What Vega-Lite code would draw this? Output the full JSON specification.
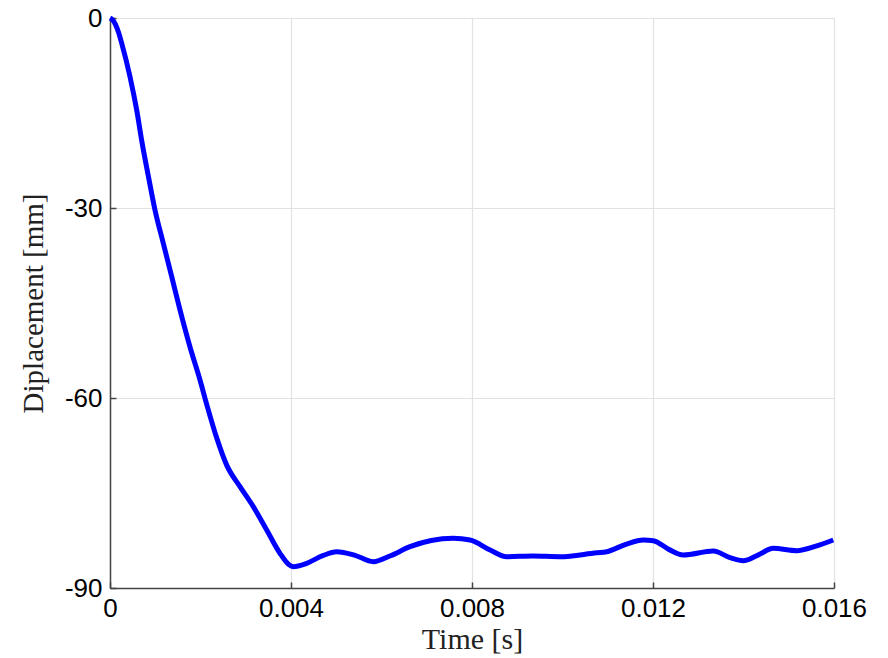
{
  "$schema": "https://vega.github.io/schema/vega-lite/v6.json",
  "width": 724,
  "height": 570,
  "autosize": "none",
  "padding": {"left": 110, "top": 18, "right": 54, "bottom": 70},
  "background": "white",
  "config": {"view": {"stroke": null}},
  "data": {"values": [
    {"t": 0.0, "d": 0.0},
    {"t": 0.00005, "d": -0.25},
    {"t": 0.00012, "d": -1.0},
    {"t": 0.00019, "d": -2.3},
    {"t": 0.000259, "d": -4.0},
    {"t": 0.000442, "d": -9.27},
    {"t": 0.000590, "d": -14.53},
    {"t": 0.000711, "d": -19.78},
    {"t": 0.000850, "d": -25.06},
    {"t": 0.000994, "d": -30.32},
    {"t": 0.001178, "d": -35.58},
    {"t": 0.001364, "d": -40.85},
    {"t": 0.001547, "d": -46.1},
    {"t": 0.001768, "d": -51.95},
    {"t": 0.001989, "d": -57.16},
    {"t": 0.002137, "d": -61.0},
    {"t": 0.002358, "d": -66.3},
    {"t": 0.002579, "d": -70.6},
    {"t": 0.002873, "d": -74.0},
    {"t": 0.003167, "d": -77.16},
    {"t": 0.003463, "d": -80.84},
    {"t": 0.003757, "d": -84.52},
    {"t": 0.00395, "d": -86.3},
    {"t": 0.004051, "d": -86.63},
    {"t": 0.004347, "d": -86.1},
    {"t": 0.00470, "d": -84.9},
    {"t": 0.005010, "d": -84.27},
    {"t": 0.00540, "d": -84.8},
    {"t": 0.005819, "d": -85.85},
    {"t": 0.00620, "d": -84.9},
    {"t": 0.006630, "d": -83.48},
    {"t": 0.00710, "d": -82.5},
    {"t": 0.007587, "d": -82.16},
    {"t": 0.007956, "d": -82.42},
    {"t": 0.00840, "d": -84.0},
    {"t": 0.008767, "d": -85.06},
    {"t": 0.009348, "d": -84.95},
    {"t": 0.009945, "d": -85.06},
    {"t": 0.010756, "d": -84.43},
    {"t": 0.010977, "d": -84.27},
    {"t": 0.01140, "d": -83.1},
    {"t": 0.011785, "d": -82.42},
    {"t": 0.012007, "d": -82.53},
    {"t": 0.01235, "d": -83.9},
    {"t": 0.012670, "d": -84.79},
    {"t": 0.013333, "d": -84.16},
    {"t": 0.01370, "d": -85.2},
    {"t": 0.013995, "d": -85.69},
    {"t": 0.01432, "d": -84.8},
    {"t": 0.014659, "d": -83.74},
    {"t": 0.015176, "d": -84.11},
    {"t": 0.01560, "d": -83.4},
    {"t": 0.015984, "d": -82.42}
  ]},
  "mark": {"type": "line", "color": "#0000ff", "strokeWidth": 5, "interpolate": "monotone", "clip": false},
  "encoding": {
    "x": {
      "field": "t", "type": "quantitative",
      "scale": {"domain": [0, 0.016], "nice": false, "zero": false},
      "axis": {
        "title": "Time [s]",
        "values": [0, 0.004, 0.008, 0.012, 0.016],
        "labelExpr": "toString(datum.value)",
        "grid": true, "gridColor": "#e2e2e2", "gridWidth": 1.2,
        "domainColor": "#444444", "domainWidth": 1.5,
        "tickColor": "#444444", "tickWidth": 1.5, "tickSize": -6,
        "labelFont": "Liberation Sans", "labelFontSize": 26, "labelFontWeight": 500, "labelColor": "#000000",
        "labelPadding": 13, "labelFlush": false, "labelOverlap": false,
        "titleFont": "Liberation Serif", "titleFontSize": 30, "titleFontWeight": "normal", "titleColor": "#222222",
        "titleY": 60, "titleBaseline": "alphabetic"
      }
    },
    "y": {
      "field": "d", "type": "quantitative",
      "scale": {"domain": [-90, 0], "nice": false, "zero": false},
      "axis": {
        "title": "Diplacement [mm]",
        "values": [-90, -60, -30, 0],
        "labelExpr": "toString(datum.value)",
        "grid": true, "gridColor": "#e2e2e2", "gridWidth": 1.2,
        "domainColor": "#444444", "domainWidth": 1.5,
        "tickColor": "#444444", "tickWidth": 1.5, "tickSize": -6,
        "labelFont": "Liberation Sans", "labelFontSize": 26, "labelFontWeight": 500, "labelColor": "#000000",
        "labelPadding": 14, "labelFlush": false, "labelOverlap": false,
        "titleFont": "Liberation Serif", "titleFontSize": 29, "titleFontWeight": "normal", "titleColor": "#222222",
        "titleX": -68, "titleBaseline": "alphabetic"
      }
    }
  }
}
